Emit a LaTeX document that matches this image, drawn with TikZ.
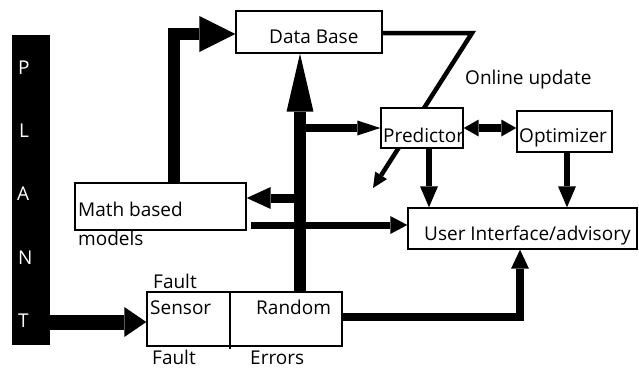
\documentclass[tikz,border=0pt]{standalone}
\usepackage{fontspec}
\setmainfont{Open Sans}
\usetikzlibrary{arrows.meta,backgrounds}
\begin{document}
\begin{tikzpicture}[x=1pt,y=-1pt,
  box/.style={draw, line width=1.4pt, fill=white, inner sep=0pt},
  lbl/.style={anchor=base west, inner sep=0pt, font=\fontsize{19}{22}\selectfont},
  plet/.style={lbl, text=white},
  conn/.style n args={3}{line width=#1, line join=miter,
    -{Triangle[length=#2, width=#3, line width=0pt]}},
]
\useasboundingbox (0,0) rectangle (639,370);

% plant column
\node[fill=black, inner sep=0pt, minimum width=38pt, minimum height=310pt] (plant) at (31,190) {};
\node[plet] (pP) at (18,74) {P};
\node[plet] (pL) at (19,137) {L};
\node[plet] (pA) at (17,200) {A};
\node[plet] (pN) at (18,264) {N};
\node[plet] (pT) at (18,327) {T};

% boxes
\node[box, minimum width=146pt, minimum height=42pt] (db) at (309,32) {};
\node[box, minimum width=82pt, minimum height=40pt] (pred) at (422,128) {};
\node[box, minimum width=95pt, minimum height=41pt] (opt) at (564.5,131.5) {};
\node[box, minimum width=229pt, minimum height=41pt] (ui) at (522.5,228.5) {};
\node[box, minimum width=171pt, minimum height=47pt] (math) at (160.5,206.5) {};
\node[box, minimum width=195pt, minimum height=54pt] (sr) at (244.5,319) {};
\coordinate (dtop) at (230,292);
\coordinate (dbot) at (230,349);
\draw[line width=1.4pt] (dtop) -- (dbot);

% texts
\node[lbl] (tdb) at (269,43) {Data Base};
\node[lbl] (tonl) at (465,84) {Online update};
\node[lbl] (tpred) at (383,142) {Predictor};
\node[lbl] (topt) at (519,142) {Optimizer};
\node[lbl] (tui) at (424,240) {User Interface/advisory};
\node[lbl] (tmath) at (78,216) {Math based};
\node[lbl] (tmod) at (78,245) {models};
\node[lbl] (tf1) at (153,288) {Fault};
\node[lbl] (tsen) at (150,314) {Sensor};
\node[lbl] (tran) at (256,314) {Random};
\node[lbl] (tf2) at (152,364) {Fault};
\node[lbl] (terr) at (250,364) {Errors};

% online update line, passing behind the predictor box
\coordinate (bend) at (472,33);
\coordinate (dtip) at (373,188);
\begin{pgfonlayer}{background}
\draw[conn={4.5pt}{15pt}{14pt}] (db.east |- bend) -- (bend) -- (dtip);
\end{pgfonlayer}

% connectors
\draw[conn={15pt}{22pt}{30pt}] (plant.east |- 0,322) -- (sr.west |- 0,322);
\draw[conn={12pt}{36pt}{36pt}] (math.north -| 174,0) |- (db.west |- 0,34);
\draw[conn={12.5pt}{58pt}{27pt}] (sr.north -| 300,0) -- (db.south -| 300,0);
\coordinate (brp) at (299,128);
\draw[conn={8pt}{23pt}{15pt}] (brp) -- (pred.west);
\coordinate (brm) at (299,198);
\draw[conn={9pt}{24pt}{22pt}] (brm) -- (math.east |- brm);
\coordinate (mout) at (251,225);
\draw[conn={7pt}{17pt}{18pt}] (mout) -- (ui.west |- mout);
\draw[line width=7.5pt,
  {Triangle[length=15pt, width=17pt, line width=0pt]}-{Triangle[length=15pt, width=17pt, line width=0pt]}]
  (pred.east) -- (opt.west |- pred.east);
\draw[conn={6.5pt}{21pt}{18pt}] (pred.south -| 429,0) -- (ui.north -| 429,0);
\draw[conn={6.5pt}{21pt}{18pt}] (opt.south -| 567,0) -- (ui.north -| 567,0);
\draw[conn={7.5pt}{19pt}{18pt}] (sr.east |- 0,317) -| (ui.south -| 520,0);
\end{tikzpicture}
\end{document}
